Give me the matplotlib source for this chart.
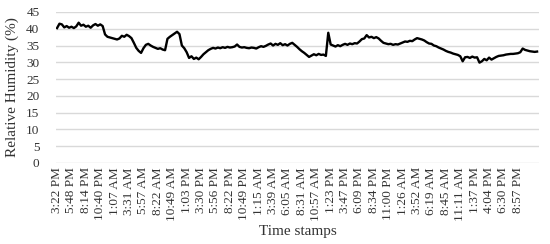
import matplotlib
matplotlib.use("Agg")
import matplotlib.pyplot as plt

# Tick labels shown on the category axis (every 6th sample)
time_labels = ["3:22 PM", "5:48 PM", "8:14 PM", "10:40 PM", "1:07 AM", "3:31 AM",
               "5:57 AM", "8:22 AM", "10:49 AM", "1:03 PM", "3:30 PM", "5:56 PM",
               "8:22 PM", "10:49 PM", "1:15 AM", "3:39 AM", "6:05 AM", "8:31 AM",
               "10:57 AM", "1:23 PM", "3:47 PM", "6:09 PM", "8:34 PM", "11:00 PM",
               "1:26 AM", "3:52 AM", "6:19 AM", "8:45 AM", "11:11 AM", "1:37 PM",
               "4:04 PM", "6:30 PM", "8:57 PM"]
LABEL_STEP = 6

# Relative humidity readings (%)
humidity = [40.2, 41.5, 41.3, 40.4, 40.8, 40.3, 40.6, 40.2, 40.7, 41.8,
            40.9, 41.2, 40.6, 40.9, 40.3, 41.0, 41.4, 40.9, 41.3, 40.8,
            38.3, 37.6, 37.4, 37.2, 37.0, 36.8, 37.1, 37.9, 37.6, 38.2,
            37.8, 37.2, 35.8, 34.3, 33.4, 32.8, 34.2, 35.2, 35.5, 35.0,
            34.6, 34.3, 34.0, 34.2, 33.8, 33.6, 37.0, 37.6, 38.1, 38.6,
            39.1, 38.4, 35.0, 34.2, 33.0, 31.3, 31.8, 31.0, 31.4, 30.9,
            31.6, 32.4, 33.0, 33.6, 34.0, 34.3, 34.1, 34.4, 34.2, 34.5,
            34.3, 34.6, 34.4, 34.5, 34.7, 35.3, 34.6, 34.4, 34.5, 34.3,
            34.2, 34.4, 34.3, 34.1, 34.5, 34.8, 34.6, 34.9, 35.3, 35.6,
            35.0, 35.5, 35.2, 35.7, 35.1, 35.4, 35.0, 35.5, 35.8, 35.2,
            34.6, 33.9, 33.3, 32.8, 32.2, 31.6, 32.0, 32.4, 32.1, 32.5,
            32.2, 32.3, 31.9, 38.8, 35.3, 35.0, 34.7, 35.1, 34.8, 35.2,
            35.5, 35.2, 35.6, 35.4, 35.7, 35.6, 36.2, 36.9, 37.1, 38.1,
            37.4, 37.6, 37.2, 37.5, 37.1, 36.4, 35.8, 35.6, 35.4, 35.5,
            35.2, 35.4, 35.3, 35.6, 35.9, 36.2, 36.1, 36.4, 36.3, 36.8,
            37.2, 37.0, 36.8, 36.5, 36.0, 35.6, 35.5, 35.0, 34.8, 34.4,
            34.1, 33.8, 33.4, 33.1, 32.9, 32.6, 32.4, 32.2, 31.8, 30.3,
            31.5, 31.6, 31.3, 31.7, 31.4, 31.5, 29.9, 30.3, 31.0, 30.6,
            31.4, 30.8, 31.2, 31.6, 31.9, 32.0, 32.1, 32.3, 32.4, 32.5,
            32.5, 32.6, 32.7, 33.0, 34.1, 33.7, 33.5, 33.3, 33.2, 33.1,
            33.2]

y_ticks = [0, 5, 10, 15, 20, 25, 30, 35, 40, 45]


def main():
    plt.rcParams['font.family'] = ['Liberation Serif', 'DejaVu Serif']

    fig = plt.figure(figsize=(5.5, 2.44), dpi=100)
    ax = fig.add_axes([0.102, 0.332, 0.878, 0.619])

    x = list(range(len(humidity)))
    ax.plot(x, humidity, color='black', linewidth=1.7, zorder=3)

    ax.set_ylim(0, 45)
    ax.set_yticks(y_ticks)
    ax.set_xlim(-0.4, len(humidity) - 0.2)
    ax.set_xticks([i * LABEL_STEP for i in range(len(time_labels))])
    ax.set_xticklabels(time_labels, rotation=90, ha='center', va='top')

    ax.grid(axis='y', color='#d9d9d9', linewidth=1.0, zorder=0)
    ax.set_axisbelow(True)
    for side in ['top', 'right', 'left', 'bottom']:
        ax.spines[side].set_visible(False)
    ax.tick_params(axis='both', length=0, labelsize=9.5, colors='#333333')
    ax.tick_params(axis='x', pad=3)
    ax.tick_params(axis='y', pad=12)

    ax.set_ylabel('Relative Humidity (%)', fontsize=11, color='#333333', labelpad=5)
    ax.set_xlabel('Time stamps', fontsize=11, color='#333333', labelpad=3)

    plt.savefig('out.png', dpi=100)


if __name__ == "__main__":
    main()
